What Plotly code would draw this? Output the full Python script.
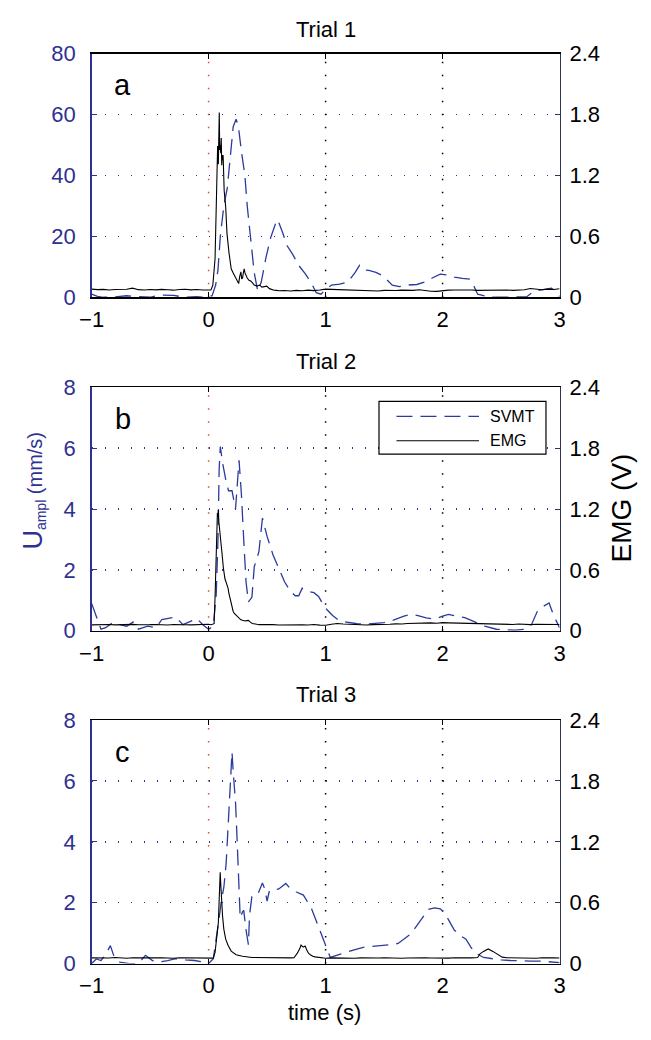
import plotly.graph_objects as go

# ---------------- data ----------------
time_ticks = [-1, 0, 1, 2, 3]
trial_titles = ["Trial 1", "Trial 2", "Trial 3"]
panel_letters = ["a", "b", "c"]
left_ticks = [[0, 20, 40, 60, 80], [0, 2, 4, 6, 8], [0, 2, 4, 6, 8]]
right_ticks = [0, 0.6, 1.2, 1.8, 2.4]
right_ticktext = ["0", "0.6", "1.2", "1.8", "2.4"]

# SVMT (left axis, mm/s)
svmt1_t = [-1.00, -0.95, -0.90, -0.80, -0.70, -0.60, -0.50, -0.42, -0.30, -0.20, -0.10, -0.03, 0.03, 0.06, 0.08, 0.10, 0.13, 0.16, 0.19, 0.21,
           0.235, 0.255, 0.28, 0.31, 0.33, 0.36, 0.39, 0.42, 0.45, 0.49, 0.53, 0.57, 0.59, 0.63, 0.67, 0.72, 0.77, 0.83, 0.88, 0.92,
           0.96, 1.00, 1.05, 1.12, 1.19, 1.25, 1.29, 1.33, 1.37, 1.43, 1.48, 1.53, 1.57, 1.63, 1.70, 1.78, 1.85, 1.92, 1.98, 2.05,
           2.10, 2.17, 2.23, 2.27, 2.30, 2.38, 2.45, 2.55, 2.65, 2.72, 2.78, 2.85, 2.93, 2.97, 3.00]
svmt1_v = [1.0, 0.3, 0.0, 0.1, 0.5, 0.3, 0.0, 0.7, 0.6, 0.0, 0.2, 0.0, 0.5, 4.0, 9.0, 20.0, 30.0, 36.0, 48.0, 56.0,
           58.5, 56.0, 48.0, 40.0, 30.0, 19.0, 8.0, 2.0, 5.0, 13.0, 19.5, 24.0, 25.5, 21.5, 17.0, 14.0, 10.5, 7.5, 4.5, 1.5,
           1.0, 2.5, 4.0, 4.3, 5.0, 8.0, 10.5, 9.0, 8.8, 8.2, 7.2, 5.5, 4.0, 3.5, 4.0, 4.2, 5.0, 6.5, 7.6, 7.3,
           6.6, 6.2, 6.0, 3.5, 1.0, 0.3, 0.0, 0.0, 0.0, 0.2, 2.0, 2.5, 3.0, 2.0, 0.2]

svmt2_t = [-1.00, -0.96, -0.92, -0.88, -0.82, -0.76, -0.70, -0.64, -0.60, -0.52, -0.45, -0.40, -0.34, -0.28, -0.22, -0.16, -0.10, -0.05, 0.00, 0.04,
           0.065, 0.08, 0.09, 0.10, 0.12, 0.15, 0.17, 0.20, 0.23, 0.26, 0.28, 0.30, 0.32, 0.34, 0.37, 0.39, 0.43, 0.46, 0.50, 0.55,
           0.60, 0.65, 0.70, 0.74, 0.77, 0.80, 0.85, 0.90, 0.94, 0.98, 1.01, 1.06, 1.12, 1.20, 1.27, 1.35, 1.42, 1.50, 1.58, 1.67,
           1.73, 1.79, 1.86, 1.93, 2.00, 2.05, 2.12, 2.19, 2.27, 2.36, 2.46, 2.55, 2.62, 2.70, 2.76, 2.81, 2.86, 2.91, 2.95, 3.00]
svmt2_v = [0.9, 0.45, 0.05, 0.10, 0.27, 0.20, 0.15, 0.30, 0.05, 0.15, 0.10, 0.37, 0.40, 0.45, 0.20, 0.30, 0.40, 0.20, 0.05, 0.15,
           1.2, 3.0, 5.3, 6.05, 5.5, 4.9, 4.6, 4.6, 4.0, 5.6, 4.5, 3.0, 1.6, 0.95, 1.1, 2.1, 2.6, 3.7, 3.1, 2.5,
           2.05, 1.6, 1.3, 1.15, 1.15, 1.4, 1.3, 1.25, 1.13, 0.85, 0.70, 0.50, 0.32, 0.26, 0.23, 0.22, 0.25, 0.27, 0.35, 0.48,
           0.54, 0.50, 0.42, 0.38, 0.48, 0.54, 0.48, 0.43, 0.30, 0.15, 0.05, 0.03, 0.02, 0.05, 0.20, 0.64, 0.80, 0.91, 0.5, 0.1]

svmt3_t = [-1.00, -0.96, -0.92, -0.88, -0.84, -0.81, -0.76, -0.68, -0.60, -0.54, -0.48, -0.42, -0.35, -0.28, -0.20, -0.12, -0.05, 0.00, 0.04, 0.07,
           0.09, 0.11, 0.13, 0.15, 0.165, 0.175, 0.19, 0.20, 0.21, 0.23, 0.24, 0.25, 0.26, 0.27, 0.29, 0.30, 0.32, 0.34, 0.35, 0.37,
           0.42, 0.46, 0.48, 0.50, 0.52, 0.60, 0.66, 0.69, 0.75, 0.81, 0.85, 0.88, 0.93, 0.97, 1.00, 1.04, 1.10, 1.19, 1.26, 1.33,
           1.40, 1.47, 1.55, 1.62, 1.68, 1.73, 1.78, 1.83, 1.88, 1.93, 1.98, 2.02, 2.06, 2.10, 2.16, 2.20, 2.24, 2.28, 2.35, 2.43,
           2.50, 2.58, 2.66, 2.75, 2.84, 2.92, 3.00]
svmt3_v = [0.0, 0.15, 0.10, 0.30, 0.59, 0.25, 0.05, 0.0, 0.0, 0.27, 0.10, 0.05, 0.10, 0.16, 0.12, 0.10, 0.05, 0.0, 0.16, 0.9,
           1.5, 2.1, 2.5, 3.3, 4.4, 5.3, 6.4, 6.95, 6.3, 5.3, 4.4, 3.3, 2.1, 1.5, 1.7, 1.75, 1.1, 0.62, 1.6, 2.2,
           2.27, 2.65, 2.45, 2.05, 2.4, 2.45, 2.63, 2.5, 2.35, 2.25, 2.0, 1.8, 1.3, 0.9, 0.6, 0.2, 0.28, 0.40, 0.47, 0.54,
           0.56, 0.59, 0.62, 0.66, 0.85, 0.98, 1.25, 1.5, 1.78, 1.83, 1.80, 1.65, 1.35, 1.10, 0.9, 0.8, 0.55, 0.35, 0.2, 0.15,
           0.12, 0.10, 0.08, 0.08, 0.08, 0.05, 0.03]

# EMG (right axis, V)
emg1_t = [-1.00, -0.95, -0.90, -0.85, -0.80, -0.75, -0.70, -0.65, -0.60, -0.55, -0.50, -0.45, -0.40, -0.35, -0.30, -0.25, -0.20, -0.15, -0.10, -0.05, 0.00,
          0.020, 0.036, 0.055, 0.069, 0.077, 0.083, 0.088, 0.091, 0.095, 0.099, 0.104, 0.108, 0.112, 0.116, 0.120, 0.124, 0.133, 0.146, 0.157, 0.174,
          0.193, 0.210, 0.221, 0.240, 0.257, 0.265, 0.276, 0.283, 0.290, 0.297, 0.304, 0.311, 0.318, 0.330, 0.345, 0.360, 0.373, 0.390, 0.414, 0.435,
          0.456, 0.475, 0.497, 0.520, 0.539, 0.560, 0.580, 0.600,
          0.65, 0.70, 0.75, 0.80, 0.85, 0.90, 0.95, 1.00, 1.05, 1.10, 1.15, 1.20, 1.25, 1.30, 1.35, 1.40, 1.45, 1.50, 1.55, 1.60,
          1.65, 1.70, 1.75, 1.80, 1.85, 1.90, 1.95, 2.00, 2.05, 2.10, 2.15, 2.20, 2.25, 2.30, 2.35, 2.40, 2.45, 2.50, 2.55, 2.60,
          2.65, 2.70, 2.75, 2.80, 2.85, 2.90, 2.95, 3.00]
emg1_v = [0.080, 0.075, 0.078, 0.072, 0.076, 0.074, 0.079, 0.090, 0.075, 0.071, 0.077, 0.073, 0.078, 0.074, 0.070, 0.076, 0.079, 0.073, 0.077, 0.072, 0.074,
          0.072, 0.120, 0.380, 1.080, 1.490, 1.310, 1.500, 1.820, 1.450, 1.500, 1.420, 1.570, 1.300, 1.400, 1.350, 1.400, 1.050, 0.890, 0.630, 0.440,
          0.280, 0.240, 0.215, 0.160, 0.135, 0.200, 0.250, 0.180, 0.190, 0.240, 0.280, 0.240, 0.215, 0.190, 0.167, 0.160, 0.145, 0.120, 0.110, 0.120,
          0.100, 0.105, 0.110, 0.085, 0.077, 0.070, 0.068, 0.064,
          0.066, 0.062, 0.068, 0.064, 0.070, 0.066, 0.072, 0.080, 0.078, 0.076, 0.072, 0.068, 0.066, 0.064, 0.068, 0.066, 0.062, 0.068, 0.064, 0.066,
          0.070, 0.066, 0.068, 0.074, 0.066, 0.060, 0.058, 0.066, 0.070, 0.072, 0.074, 0.070, 0.072, 0.068, 0.070, 0.072, 0.068, 0.070, 0.072, 0.068,
          0.070, 0.074, 0.086, 0.078, 0.074, 0.080, 0.076, 0.084]

emg2_t = [-1.00, -0.95, -0.90, -0.85, -0.80, -0.75, -0.70, -0.65, -0.60, -0.55, -0.50, -0.45, -0.40, -0.35, -0.30, -0.25, -0.20, -0.15, -0.10, -0.05, 0.00,
          0.020, 0.047, 0.055, 0.064, 0.069, 0.075, 0.080, 0.083, 0.088, 0.093, 0.097, 0.105, 0.112, 0.119, 0.126, 0.133, 0.140, 0.146, 0.155, 0.166,
          0.173, 0.180, 0.190, 0.200, 0.210, 0.220, 0.235, 0.250, 0.265, 0.276, 0.290, 0.310, 0.325, 0.340, 0.357, 0.373, 0.400, 0.430, 0.460, 0.500,
          0.550,
          0.60, 0.65, 0.70, 0.75, 0.80, 0.85, 0.90, 0.95, 1.00, 1.05, 1.10, 1.15, 1.20, 1.25, 1.30, 1.35, 1.40, 1.45, 1.50, 1.55,
          1.60, 1.65, 1.70, 1.75, 1.80, 1.85, 1.90, 1.95, 2.00, 2.05, 2.10, 2.15, 2.20, 2.25, 2.30, 2.35, 2.40, 2.45, 2.50, 2.55,
          2.60, 2.65, 2.70, 2.75, 2.80, 2.85, 2.90, 2.95, 3.00]
emg2_v = [0.058, 0.060, 0.056, 0.062, 0.058, 0.061, 0.057, 0.063, 0.059, 0.056, 0.060, 0.062, 0.058, 0.057, 0.061, 0.063, 0.059, 0.058, 0.062, 0.060, 0.064,
          0.060, 0.070, 0.330, 0.710, 0.960, 1.160, 1.120, 1.190, 1.070, 1.020, 0.960, 0.840, 0.780, 0.710, 0.620, 0.550, 0.510, 0.490, 0.460, 0.420,
          0.370, 0.330, 0.270, 0.230, 0.190, 0.170, 0.150, 0.135, 0.120, 0.108, 0.100, 0.096, 0.100, 0.102, 0.085, 0.072, 0.066, 0.060, 0.062, 0.058,
          0.060,
          0.057, 0.059, 0.056, 0.060, 0.058, 0.057, 0.061, 0.056, 0.055, 0.064, 0.072, 0.066, 0.062, 0.060, 0.058, 0.057, 0.060, 0.059, 0.062, 0.064,
          0.068, 0.066, 0.072, 0.074, 0.070, 0.076, 0.078, 0.074, 0.080, 0.078, 0.076, 0.080, 0.078, 0.072, 0.068, 0.066, 0.064, 0.062, 0.064, 0.060,
          0.062, 0.066, 0.062, 0.060, 0.064, 0.062, 0.060, 0.063, 0.061]

emg3_t = [-1.00, -0.95, -0.90, -0.85, -0.80, -0.75, -0.70, -0.65, -0.60, -0.55, -0.50, -0.45, -0.40, -0.35, -0.30, -0.25, -0.20, -0.15, -0.10, -0.05, 0.00,
          0.020, 0.040, 0.055, 0.069, 0.077, 0.083, 0.088, 0.094, 0.099, 0.105, 0.110, 0.119, 0.130, 0.146, 0.166, 0.193, 0.235, 0.290, 0.370, 0.430,
          0.480, 0.550, 0.600, 0.650, 0.700, 0.730, 0.760, 0.780, 0.790, 0.800, 0.810, 0.820, 0.826, 0.840, 0.855, 0.870, 0.890, 0.910, 0.950, 0.980,
          1.00, 1.05, 1.10, 1.15, 1.20, 1.25, 1.30, 1.35, 1.40, 1.45, 1.50, 1.55, 1.60, 1.65, 1.70, 1.75, 1.80, 1.85, 1.90, 1.95,
          2.00, 2.05, 2.10, 2.15, 2.20, 2.25,
          2.30, 2.32, 2.35, 2.39, 2.43, 2.46, 2.51, 2.55,
          2.60, 2.65, 2.70, 2.75, 2.80, 2.85, 2.90, 2.95, 3.00]
emg3_v = [0.056, 0.054, 0.058, 0.055, 0.060, 0.056, 0.053, 0.057, 0.055, 0.059, 0.054, 0.056, 0.058, 0.055, 0.053, 0.057, 0.056, 0.054, 0.058, 0.055, 0.056,
          0.055, 0.054, 0.110, 0.310, 0.340, 0.400, 0.630, 0.850, 0.900, 0.760, 0.590, 0.470, 0.340, 0.240, 0.180, 0.123, 0.087, 0.072, 0.060, 0.058,
          0.057, 0.058, 0.056, 0.057, 0.056, 0.057, 0.105, 0.150, 0.183, 0.170, 0.162, 0.170, 0.171, 0.130, 0.100, 0.087, 0.072, 0.066, 0.058, 0.054,
          0.052, 0.056, 0.054, 0.057, 0.055, 0.053, 0.056, 0.054, 0.052, 0.055, 0.057, 0.054, 0.056, 0.053, 0.055, 0.057, 0.054, 0.056, 0.055, 0.053,
          0.056, 0.054, 0.057, 0.055, 0.053, 0.056,
          0.060, 0.096, 0.120, 0.144, 0.120, 0.096, 0.063, 0.058,
          0.056, 0.054, 0.057, 0.055, 0.053, 0.058, 0.054, 0.056, 0.055]

for a, b in [(svmt1_t, svmt1_v), (svmt2_t, svmt2_v), (svmt3_t, svmt3_v),
             (emg1_t, emg1_v), (emg2_t, emg2_v), (emg3_t, emg3_v)]:
    assert len(a) == len(b), (len(a), len(b))

svmt = [(svmt1_t, svmt1_v), (svmt2_t, svmt2_v), (svmt3_t, svmt3_v)]
emg = [(emg1_t, emg1_v), (emg2_t, emg2_v), (emg3_t, emg3_v)]

# ---------------- style / layout ----------------
W, H = 651, 1040
FONT = "Liberation Sans, Arial, Helvetica, sans-serif"
BLUE = "#2e3192"
LINEBLUE = "#2b3a9c"
RED = "#d9502a"
DOT = "1.5px,11.5px"
X0, X1 = 81, 563
panel_px = [(42.7, 292.3), (384.5, 634.0), (725.5, 975.0)]  # top, bottom
title_px = [18, 358, 699.5]


def py(p):
    return 1 - p / H


fig = go.Figure()
layout = dict(
    width=W, height=H, autosize=False,
    margin=dict(l=0, r=0, t=0, b=0),
    paper_bgcolor="white", plot_bgcolor="white",
    font=dict(family=FONT, color="black"),
    showlegend=False,
)
shapes = []
annotations = []

for i in range(3):
    xa = "x" if i == 0 else f"x{i + 1}"
    xk = "xaxis" if i == 0 else f"xaxis{i + 1}"
    yl = "y" if i == 0 else f"y{2 * i + 1}"
    ylk = "yaxis" if i == 0 else f"yaxis{2 * i + 1}"
    yr = f"y{2 * i + 2}"
    yrk = f"yaxis{2 * i + 2}"
    top, bot = panel_px[i]
    dom = [py(bot), py(top)]

    fig.add_trace(go.Scatter(x=svmt[i][0], y=svmt[i][1], xaxis=xa, yaxis=yl, mode="lines",
                             line=dict(color=LINEBLUE, width=1.3, dash="16px,8px"),
                             name="SVMT", hoverinfo="skip"))
    fig.add_trace(go.Scatter(x=emg[i][0], y=emg[i][1], xaxis=xa, yaxis=yr, mode="lines",
                             line=dict(color="black", width=1.1),
                             name="EMG", hoverinfo="skip"))

    layout[xk] = dict(domain=[X0 / W, X1 / W], range=[-1, 3], anchor=yl,
                      tickmode="array", tickvals=time_ticks,
                      ticks="inside", ticklen=5, tickcolor="black", tickwidth=1,
                      showline=True, linecolor="black", linewidth=1.5, mirror="ticks",
                      showgrid=False, zeroline=False,
                      tickfont=dict(size=22, color="black", family=FONT),
                      ticklabelstandoff=2)
    layout[ylk] = dict(domain=dom, range=[0, left_ticks[i][-1]], anchor=xa,
                       tickmode="array", tickvals=left_ticks[i],
                       ticks="inside", ticklen=5, tickcolor=BLUE, tickwidth=1,
                       showline=True, linecolor=BLUE, linewidth=1.5,
                       showgrid=True, gridcolor=BLUE, gridwidth=1.5, griddash=DOT,
                       zeroline=False,
                       tickfont=dict(size=22, color=BLUE, family=FONT),
                       ticklabelstandoff=10)
    layout[yrk] = dict(domain=dom, range=[0, 2.4], anchor=xa, overlaying=yl, side="right",
                       tickmode="array", tickvals=right_ticks, ticktext=right_ticktext,
                       ticks="inside", ticklen=5, tickcolor="#333355", tickwidth=1,
                       showline=True, linecolor="#333355", linewidth=1.5,
                       showgrid=False, zeroline=False,
                       tickfont=dict(size=22, color="black", family=FONT),
                       ticklabelstandoff=4)

    # vertical reference lines at 0 (red), 1 and 2 (black)
    for xv, col in [(0, RED), (1, "black"), (2, "black")]:
        shapes.append(dict(type="line", xref=xa, yref=f"{yl} domain", x0=xv, x1=xv, y0=0, y1=1,
                           line=dict(color=col, width=1.5, dash=DOT), layer="below"))

    annotations.append(dict(text=trial_titles[i], xref="paper", yref="paper",
                            x=(X0 + X1) / 2 / W, y=py(title_px[i]), xanchor="center", yanchor="middle",
                            showarrow=False, font=dict(size=22, color="black", family=FONT)))
    annotations.append(dict(text=panel_letters[i], xref=xa, yref=f"{yl} domain",
                            x=-0.735, y=0.87, xanchor="center", yanchor="middle",
                            showarrow=False, font=dict(size=29, color="black", family=FONT)))

# axis titles
annotations.append(dict(text="time (s)", xref="paper", yref="paper", x=321 / W, y=py(1025),
                        xanchor="center", yanchor="middle", showarrow=False,
                        font=dict(size=22, color="black", family=FONT)))
annotations.append(dict(text='<span style="font-size:27px">U</span><sub>ampl</sub> (mm/s)',
                        xref="paper", yref="paper", x=21 / W, y=py(490), textangle=-90,
                        xanchor="center", yanchor="middle", showarrow=False,
                        font=dict(size=20, color=BLUE, family=FONT)))
annotations.append(dict(text="EMG (V)", xref="paper", yref="paper", x=627 / W, y=py(508), textangle=-90,
                        xanchor="center", yanchor="middle", showarrow=False,
                        font=dict(size=28, color="black", family=FONT)))

# legend box (panel b)
shapes.append(dict(type="rect", xref="paper", yref="paper", x0=377 / W, x1=549 / W, y0=py(453), y1=py(399),
                   line=dict(color="black", width=1.2), fillcolor="white", layer="above"))
shapes.append(dict(type="line", xref="paper", yref="paper", x0=395 / W, x1=480 / W, y0=py(414.3), y1=py(414.3),
                   line=dict(color=LINEBLUE, width=1.3, dash="16px,8px"), layer="above"))
shapes.append(dict(type="line", xref="paper", yref="paper", x0=395 / W, x1=480 / W, y0=py(439.3), y1=py(439.3),
                   line=dict(color="black", width=1.1), layer="above"))
for lbl, yy in [("SVMT", 414.3), ("EMG", 439.3)]:
    annotations.append(dict(text=lbl, xref="paper", yref="paper", x=489 / W, y=py(yy),
                            xanchor="left", yanchor="middle", showarrow=False,
                            font=dict(size=16, color="black", family=FONT)))

layout["shapes"] = shapes
layout["annotations"] = annotations
fig.update_layout(**layout)
fig.write_html("out.html",
               config={"displayModeBar": False, "staticPlot": True},
               post_script="document.body.style.margin='0px';document.body.style.overflow='hidden';")
